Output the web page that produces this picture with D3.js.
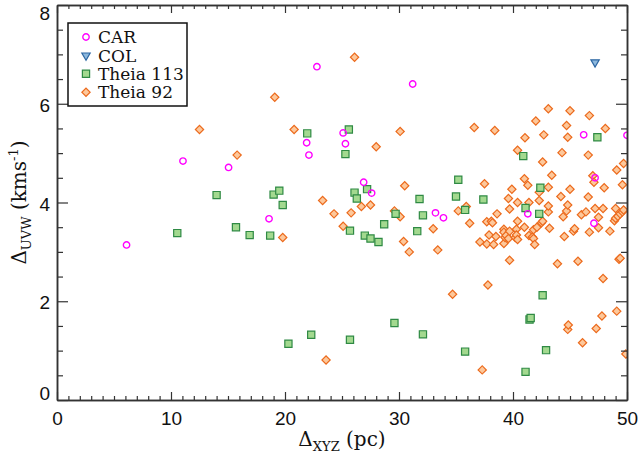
<!DOCTYPE html>
<html>
<head>
<meta charset="utf-8">
<script src="https://cdn.jsdelivr.net/npm/d3@7"></script>
<style>
    html, body { margin: 0; padding: 0; background: #fff; }
    svg { display: block; font-family: "DejaVu Serif", "Liberation Serif", serif; }
    .axis path, .axis line { stroke: #333; }
    .axis path { stroke-width: 1.5; }
    .axis line { stroke-width: 1.2; }
    .axis text { font-size: 19px; fill: #111; }
</style>
</head>
<body>
<div id="chart"></div>
<script>
// Delta XYZ (pc), Delta UVW (km/s) per group
var carX = [6.1, 11.05, 15.05, 18.6, 21.9, 22.1, 22.8, 25.1, 25.3, 26.9, 27.6, 31.2, 33.2, 33.9, 41.3, 46.2, 47.2, 47.1, 50.0];
var carY = [3.14, 4.84, 4.71, 3.67, 5.21, 4.96, 6.75, 5.41, 5.19, 4.41, 4.19, 6.40, 3.79, 3.69, 3.77, 5.37, 4.50, 3.58, 5.36];

var colX = [47.2];
var colY = [6.84];

var theia113X = [10.55, 14.0, 15.7, 16.9, 18.7, 19.0, 19.5, 19.8, 20.3, 21.95, 22.3, 25.3, 25.6, 25.7, 25.7,
    26.1, 26.3, 27.0, 27.2, 27.5, 28.2, 28.7, 29.6, 29.7, 31.6, 31.8, 32.1, 32.1, 35.0, 35.2, 35.8, 35.8,
    37.4, 40.9, 41.1, 41.1, 41.45, 41.55, 42.3, 42.4, 42.6, 42.9, 47.4];
var theia113Y = [3.38, 4.15, 3.50, 3.34, 3.33, 4.16, 4.24, 3.95, 1.14, 5.40, 1.32, 4.98, 5.48, 3.43, 1.22,
    4.20, 4.08, 3.33, 4.27, 3.27, 3.20, 3.56, 1.56, 3.77, 3.42, 4.07, 3.74, 1.33, 4.12, 4.46, 3.85, 0.98,
    4.06, 4.94, 3.89, 0.57, 1.63, 1.66, 3.77, 4.30, 2.12, 1.01, 5.32];

var theia92X = [12.5, 15.8, 19.1, 19.8, 20.8, 23.3, 23.6, 24.3, 25.1, 25.8, 26.1, 26.7, 27.5, 28.0, 29.6,
    30.1, 30.1, 30.4, 30.5, 30.9, 33.0, 33.4, 34.7, 35.2, 35.9, 36.2, 36.6, 37.1, 37.3, 37.5, 37.7, 37.7,
    37.8, 37.9, 38.1, 38.2, 38.3, 38.4, 38.5, 38.6, 39.2, 39.2, 39.2, 39.3, 39.4, 39.6, 39.6, 39.7, 39.7,
    39.7, 39.9, 40.2, 40.3, 40.3, 40.4, 40.4, 40.4, 40.4, 41.0, 41.0, 41.05, 41.3, 41.4, 41.4, 41.7, 41.8,
    41.8, 41.9, 42.0, 42.1, 42.3, 42.3, 42.5, 42.6, 42.6, 42.7, 43.1, 43.1, 43.1, 43.1, 43.2, 43.4, 43.9,
    44.2, 44.3, 44.4, 44.5, 44.7, 44.7, 44.8, 44.8, 44.8, 44.85, 45.0, 45.0, 45.3, 45.4, 45.7, 46.0, 46.1,
    46.4, 46.6, 46.6, 46.7, 46.7, 47.0, 47.1, 47.2, 47.3, 47.5, 47.5, 47.8, 47.9, 47.9, 48.0, 48.1, 48.5,
    48.9, 49.0, 49.0, 49.1, 49.1, 49.2, 49.3, 49.4, 49.4, 49.6, 49.6, 49.7, 49.7, 49.9];
var theia92Y = [5.48, 4.96, 6.13, 3.29, 5.48, 4.04, 0.81, 3.77, 3.52, 3.79, 6.94, 3.92, 3.95, 5.13, 3.83,
    3.71, 5.44, 3.21, 4.34, 3.00, 3.47, 3.04, 2.14, 3.83, 3.92, 3.58, 5.52, 3.20, 0.61, 4.38, 3.61, 3.16,
    2.33, 3.34, 3.62, 3.59, 3.15, 5.46, 3.31, 3.77, 3.46, 3.40, 3.17, 3.29, 3.33, 3.27, 4.08, 3.42, 3.87,
    2.83, 4.27, 3.29, 3.46, 3.34, 3.25, 3.62, 4.00, 5.06, 3.50, 4.48, 5.31, 4.35, 4.00, 3.33, 3.30, 3.45,
    3.27, 3.15, 5.65, 3.50, 4.04, 4.21, 3.59, 3.62, 4.82, 5.37, 3.81, 3.93, 4.31, 5.90, 3.48, 4.55, 2.76,
    4.12, 5.01, 3.71, 3.31, 3.83, 5.56, 3.95, 5.32, 1.43, 1.52, 4.27, 5.86, 3.42, 3.47, 2.81, 3.75, 1.16,
    3.81, 4.11, 4.96, 3.40, 5.76, 4.54, 4.41, 3.88, 1.45, 3.70, 3.49, 1.70, 3.88, 2.46, 4.30, 5.50, 3.42,
    3.63, 3.68, 3.88, 4.66, 1.80, 3.72, 2.85, 2.87, 3.77, 3.81, 4.36, 3.85, 4.79, 0.93];

var xMajor = [0, 10, 20, 30, 40, 50];
var yMajor = [0, 2, 4, 6, 8];

(function(d3) {
    'use strict';

    var width = 639,
        height = 457,
        margin = {top: 5, right: 12, bottom: 57, left: 57};

    var innerWidth = width - margin.left - margin.right,
        innerHeight = height - margin.top - margin.bottom;

    var x = d3.scaleLinear().domain([0, 50]).range([0, innerWidth]);
    var y = d3.scaleLinear().domain([0, 8]).range([innerHeight, 0]);

    var xMinor = d3.range(0, 51, 1).filter(function(v) { return v % 10 !== 0; });
    var yMinor = d3.range(0, 8.01, 0.5).filter(function(v) { return v % 2 !== 0; });

    // Series, drawn back to front
    var groups = [
        {name: 'Theia 92', xs: theia92X, ys: theia92Y, type: d3.symbolSquare, size: 34, rotate: 45,
            fill: '#fdc89b', stroke: '#ec6a1c'},
        {name: 'Theia 113', xs: theia113X, ys: theia113Y, type: d3.symbolSquare, size: 52, rotate: 0,
            fill: '#a3d98f', stroke: '#2f8a44'},
        {name: 'COL', xs: colX, ys: colY, type: d3.symbolTriangle, size: 30, rotate: 180,
            fill: '#8db8dd', stroke: '#2d67a3'},
        {name: 'CAR', xs: carX, ys: carY, type: d3.symbolCircle, size: 32, rotate: 0,
            fill: 'none', stroke: '#ff00ff'}
    ];

    var svg = d3.select('#chart').append('svg')
        .attr('width', width)
        .attr('height', height);

    var chart = svg.append('g')
        .attr('transform', 'translate(' + margin.left + ',' + margin.top + ')');

    chart.append('defs').append('clipPath')
        .attr('id', 'plotAreaClip')
        .append('rect')
        .attr('width', innerWidth)
        .attr('height', innerHeight);

    // Points
    var plotArea = chart.append('g').attr('clip-path', 'url(#plotAreaClip)');

    groups.forEach(function(g) {
        var pts = g.xs.map(function(v, i) { return [v, g.ys[i]]; });
        plotArea.append('g').selectAll('path')
            .data(pts)
            .enter().append('path')
            .attr('d', d3.symbol().type(g.type).size(g.size))
            .attr('transform', function(d) {
                return 'translate(' + x(d[0]) + ',' + y(d[1]) + ') rotate(' + g.rotate + ')';
            })
            .attr('fill', g.fill)
            .attr('stroke', g.stroke)
            .attr('stroke-width', g.name === 'CAR' ? 1.4 : 1.2);
    });

    // Axes: ticks point into the plot on all four sides
    function addAxis(axis, cls, transform) {
        var g = chart.append('g')
            .attr('class', 'axis ' + cls)
            .attr('transform', transform)
            .call(axis);
        return g;
    }

    addAxis(d3.axisBottom(x).tickValues(xMinor).tickSize(-4).tickSizeOuter(0).tickFormat(''),
        'x-minor', 'translate(0,' + innerHeight + ')');
    addAxis(d3.axisBottom(x).tickValues(xMajor).tickSize(-8).tickSizeOuter(0).tickPadding(10)
        .tickFormat(d3.format('d')), 'x-major', 'translate(0,' + innerHeight + ')');
    addAxis(d3.axisTop(x).tickValues(xMinor).tickSize(-4).tickSizeOuter(0).tickFormat(''),
        'x-top', 'translate(0,0)');
    addAxis(d3.axisTop(x).tickValues(xMajor).tickSize(-8).tickSizeOuter(0).tickFormat(''),
        'x-top', 'translate(0,0)');

    addAxis(d3.axisLeft(y).tickValues(yMinor).tickSize(-6).tickSizeOuter(0).tickFormat(''),
        'y-minor', 'translate(0,0)');
    addAxis(d3.axisLeft(y).tickValues(yMajor).tickSize(-11).tickSizeOuter(0).tickPadding(7)
        .tickFormat(d3.format('d')), 'y-major', 'translate(0,0)');
    addAxis(d3.axisRight(y).tickValues(yMinor).tickSize(-6).tickSizeOuter(0).tickFormat(''),
        'y-right', 'translate(' + innerWidth + ',0)');
    addAxis(d3.axisRight(y).tickValues(yMajor).tickSize(-11).tickSizeOuter(0).tickFormat(''),
        'y-right', 'translate(' + innerWidth + ',0)');

    chart.selectAll('.x-major text').attr('dy', '0.78em');

    // The end labels of the y axis are kept inside the axis range
    chart.selectAll('.y-major text').attr('y', function(d) {
        if (d === 8) { return 8; }
        if (d === 0) { return -7; }
        return 1.5;
    });

    // Axis titles
    var xTitle = svg.append('text')
        .attr('x', margin.left + innerWidth / 2)
        .attr('y', 446)
        .attr('text-anchor', 'middle')
        .style('font-size', '20px')
        .attr('fill', '#111');
    xTitle.append('tspan').text('\u0394');
    xTitle.append('tspan').attr('dy', 5).style('font-size', '13px').text('XYZ');
    xTitle.append('tspan').attr('dy', -5).text(' (pc)');

    var yTitle = svg.append('text')
        .attr('transform', 'translate(26,' + (margin.top + innerHeight / 2) + ') rotate(-90)')
        .attr('text-anchor', 'middle')
        .style('font-size', '20px')
        .attr('fill', '#111');
    yTitle.append('tspan').text('\u0394');
    yTitle.append('tspan').attr('dy', 5).style('font-size', '13px').text('UVW');
    yTitle.append('tspan').attr('dy', -5).text(' (kms');
    yTitle.append('tspan').attr('dy', -8).style('font-size', '13px').text('-1');
    yTitle.append('tspan').attr('dy', 8).text(')');

    // Legend
    var legend = svg.append('g').attr('transform', 'translate(68,23)');
    legend.append('rect')
        .attr('width', 119)
        .attr('height', 83)
        .attr('fill', '#fff')
        .attr('stroke', '#111')
        .attr('stroke-width', 1.5);

    groups.slice().reverse().forEach(function(g, i) {
        var row = legend.append('g').attr('transform', 'translate(18,' + (14 + i * 18.4) + ')');
        row.append('path')
            .attr('d', d3.symbol().type(g.type).size(g.size))
            .attr('transform', 'rotate(' + g.rotate + ')')
            .attr('fill', g.fill)
            .attr('stroke', g.stroke)
            .attr('stroke-width', g.name === 'CAR' ? 1.4 : 1.2);
        row.append('text')
            .attr('x', 12)
            .attr('dy', '0.36em')
            .style('font-size', '17px')
            .attr('fill', '#111')
            .text(g.name);
    });
}(d3));
</script>
</body>
</html>
